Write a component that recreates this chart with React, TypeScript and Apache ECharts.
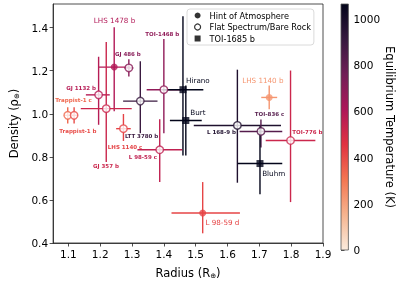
import React, { useEffect, useRef } from 'react';
import * as echarts from 'echarts';

// ---- data ----
const planets = [
  'LHS 1478 b', 'GJ 486 b', 'GJ 1132 b', 'GJ 357 b', 'Trappist-1 c', 'Trappist-1 b',
  'LHS 1140 c', 'LTT 3780 b', 'TOI-1468 b', 'TOI-1685 b (Hirano)', 'TOI-1685 b (Burt)',
  'L 168-9 b', 'TOI-836 c', 'TOI-1685 b (Bluhm)', 'TOI-776 b', 'LHS 1140 b', 'L 98-59 c', 'L 98-59 d',
];
const kind = ['hint', 'flat', 'flat', 'flat', 'flat', 'flat', 'flat', 'flat', 'flat', 'toi', 'toi',
  'flat', 'flat', 'toi', 'flat', 'hint', 'flat', 'hint'];
const radius = [1.244, 1.290, 1.195, 1.219, 1.098, 1.118, 1.273, 1.326, 1.400, 1.460, 1.469,
  1.631, 1.705, 1.702, 1.798, 1.731, 1.387, 1.522];
const radiusErrLo = [0.05, 0.014, 0.040, 0.08, 0.012, 0.012, 0.023, 0.054, 0.054, 0.064, 0.05,
  0.137, 0.067, 0.07, 0.078, 0.025, 0.07, 0.098];
const radiusErrHi = [0.05, 0.014, 0.035, 0.08, 0.012, 0.012, 0.023, 0.054, 0.054, 0.064, 0.05,
  0.137, 0.067, 0.07, 0.078, 0.025, 0.07, 0.117];
const density = [1.217, 1.213, 1.088, 1.024, 0.993, 0.993, 0.931, 1.059, 1.112, 1.112, 0.969,
  0.946, 0.918, 0.769, 0.876, 1.076, 0.833, 0.539];
const densityErrLo = [0.205, 0.04, 0.139, 0.248, 0.038, 0.038, 0.057, 0.149, 0.202, 0.306, 0.163,
  0.266, 0.074, 0.143, 0.286, 0.055, 0.150, 0.094];
const densityErrHi = [0.185, 0.04, 0.177, 0.309, 0.038, 0.038, 0.068, 0.185, 0.236, 0.341, 0.163,
  0.259, 0.055, 0.173, 0.325, 0.055, 0.142, 0.144];
const teq = [595, 700, 580, 525, 340, 400, 420, 900, 680, 1065, 1065, 980, 830, 1065, 520, 226, 553, 416];

// annotations (text, anchor in data coords, planet whose colour it takes)
const annText = ['LHS 1478 b', 'GJ 486 b', 'TOI-1468 b', 'GJ 1132 b', 'Trappist-1 c', 'Trappist-1 b',
  'GJ 357 b', 'LHS 1140 c', 'LTT 3780 b', 'L 98-59 c', 'Hirano', 'Burt', 'L 168-9 b', 'TOI-836 c',
  'TOI-776 b', 'LHS 1140 b', 'Bluhm', 'L 98-59 d'];
const annPlanet = [0, 1, 8, 2, 4, 5, 3, 6, 7, 16, 9, 10, 11, 12, 14, 15, 13, 17];
const annX = [1.245, 1.287, 1.395, 1.140, 1.116, 1.130, 1.218, 1.278, 1.330, 1.334, 1.507, 1.507,
  1.581, 1.732, 1.851, 1.711, 1.745, 1.584];
const annY = [1.434, 1.280, 1.371, 1.119, 1.062, 0.919, 0.758, 0.848, 0.897, 0.799, 1.157, 1.006,
  0.915, 0.999, 0.915, 1.153, 0.721, 0.493];

const xTicks = [1.1, 1.2, 1.3, 1.4, 1.5, 1.6, 1.7, 1.8, 1.9];
const yTicks = [0.4, 0.6, 0.8, 1.0, 1.2, 1.4];
const cbTicks = [0, 200, 400, 600, 800, 1000];
const TMAX = 1065;

const legendNames = ['Hint of Atmosphere', 'Flat Spectrum/Bare Rock', 'TOI-1685 b'];

// rocket colormap stops
const ROCKET: [number, string][] = [
  [0, '#03051a'], [1 / 7, '#35193e'], [2 / 7, '#701f57'], [3 / 7, '#ad1759'],
  [4 / 7, '#e13342'], [5 / 7, '#f37651'], [6 / 7, '#f6b48f'], [1, '#faebdd'],
];

function hex2rgb(h: string) {
  return [parseInt(h.slice(1, 3), 16), parseInt(h.slice(3, 5), 16), parseInt(h.slice(5, 7), 16)];
}
function colorFor(t: number) {
  // rocket_r
  let p = 1 - t / TMAX;
  p = Math.max(0, Math.min(1, p));
  for (let i = 0; i < ROCKET.length - 1; i++) {
    const [p0, c0] = ROCKET[i];
    const [p1, c1] = ROCKET[i + 1];
    if (p <= p1) {
      const f = (p - p0) / (p1 - p0);
      const a = hex2rgb(c0), b = hex2rgb(c1);
      const c = a.map((v, k) => Math.round(v + (b[k] - v) * f));
      return `rgb(${c[0]},${c[1]},${c[2]})`;
    }
  }
  return ROCKET[ROCKET.length - 1][1];
}

const FONT = 'DejaVu Sans';
const bigLabels = new Set(['LHS 1478 b', 'LHS 1140 b', 'L 98-59 d', 'Hirano', 'Burt', 'Bluhm']);

export default function App() {
  const ref = useRef<HTMLDivElement>(null);
  useEffect(() => {
    if (!ref.current) return;
    const chart = echarts.init(ref.current, null, { renderer: 'svg' });
    const colors = teq.map(colorFor);

    const pts = (k: string) =>
      planets.map((_, i) => i).filter((i) => kind[i] === k).map((i) => {
        const c = colors[i];
        const style = k === 'flat'
          ? { color: '#ffffff', borderColor: c, borderWidth: 1.4 }
          : { color: c, borderWidth: 0 };
        return { value: [radius[i], density[i]], itemStyle: style };
      });

    const axisLine = { show: true, lineStyle: { color: '#222', width: 0.8 } };
    const tick = { show: true, length: 3.5, lineStyle: { color: '#222', width: 0.8 } };
    const lbl = { color: '#000', fontSize: 10.5, fontFamily: FONT };

    chart.setOption({
      animation: false,
      grid: [
        { left: 39, top: 4, width: 284, height: 246, show: true, borderColor: '#222', borderWidth: 0.8 },
        { left: 341, top: 4, width: 12, height: 246 },
      ],
      xAxis: [
        {
          type: 'value', gridIndex: 0, min: 1.052, max: 1.9,
          axisLine, axisTick: { ...tick, customValues: xTicks },
          axisLabel: { ...lbl, margin: 5, customValues: xTicks, formatter: (v: number) => v.toFixed(1) },
          splitLine: { show: false },
          name: 'Radius (R{s|⊕})', nameLocation: 'middle', nameGap: 23,
          nameTextStyle: {
            fontSize: 11.5, fontFamily: FONT, color: '#000',
            rich: { s: { fontSize: 7, fontFamily: FONT, verticalAlign: 'bottom', padding: [6, 0, 0, 0] } },
          },
        },
        { type: 'value', gridIndex: 1, min: 0, max: 1, show: false },
      ],
      yAxis: [
        {
          type: 'value', gridIndex: 0, min: 0.4, max: 1.51,
          axisLine, axisTick: { ...tick, customValues: yTicks },
          axisLabel: { ...lbl, margin: 5, customValues: yTicks, formatter: (v: number) => v.toFixed(1) },
          splitLine: { show: false },
          name: 'Density (ρ{s|⊕})', nameLocation: 'middle', nameGap: 29, nameRotate: 90,
          nameTextStyle: {
            fontSize: 11.5, fontFamily: FONT, color: '#000',
            rich: { s: { fontSize: 7, fontFamily: FONT, verticalAlign: 'bottom', padding: [6, 0, 0, 0] } },
          },
        },
        {
          type: 'value', gridIndex: 1, min: 0, max: TMAX, position: 'right',
          axisLine: { show: false }, axisTick: { ...tick, customValues: cbTicks },
          axisLabel: { ...lbl, margin: 5, customValues: cbTicks, formatter: (v: number) => String(v) },
          splitLine: { show: false },
          name: 'Equilibrium Temperature (K)', nameLocation: 'middle', nameGap: 29, nameRotate: -90,
          nameTextStyle: { fontSize: 11.5, fontFamily: FONT, color: '#000' },
        },
      ],
      legend: {
        orient: 'vertical', left: 187, top: 9,
        padding: [1.5, 3, 1.5, 7], itemGap: 1.5, itemWidth: 14, itemHeight: 6,
        backgroundColor: '#fff', borderColor: '#d0d0d0', borderWidth: 0.8, borderRadius: 3,
        textStyle: { fontSize: 8.2, fontFamily: FONT, color: '#000', lineHeight: 10 },
        data: [
          { name: legendNames[0], icon: 'circle', itemStyle: { color: '#000', borderWidth: 0 } },
          { name: legendNames[1], icon: 'circle', itemStyle: { color: '#fff', borderColor: '#000', borderWidth: 1.2 } },
          { name: legendNames[2], icon: 'path://M0,0h10v10h-10z', itemStyle: { color: '#000', borderWidth: 0 } },
        ],
        selectedMode: false,
      },
      series: [
        {
          type: 'custom', name: 'colorbar', xAxisIndex: 1, yAxisIndex: 1, silent: true,
          data: [[0, 0]],
          renderItem: (_p: any, api: any) => {
            const tl = api.coord([0, TMAX]);
            const br = api.coord([1, 0]);
            return {
              type: 'rect',
              shape: { x: tl[0], y: tl[1], width: br[0] - tl[0], height: br[1] - tl[1] },
              style: {
                fill: new echarts.graphic.LinearGradient(0, 0, 0, 1,
                  ROCKET.map(([o, c]) => ({ offset: o, color: c }))),
                stroke: '#555', lineWidth: 0.8,
              },
            };
          },
        },
        {
          type: 'custom', name: 'errors', xAxisIndex: 0, yAxisIndex: 0, silent: true, z: 1,
          encode: { x: 0, y: 1 },
          data: planets.map((_, i) => [radius[i], density[i], i]),
          renderItem: (_p: any, api: any) => {
            const i = api.value(2);
            const x = api.value(0), y = api.value(1);
            const a = api.coord([x - radiusErrLo[i], y]);
            const b = api.coord([x + radiusErrHi[i], y]);
            const c = api.coord([x, y - densityErrLo[i]]);
            const d = api.coord([x, y + densityErrHi[i]]);
            const style = { stroke: colors[i], lineWidth: 1.4 };
            return {
              type: 'group',
              children: [
                { type: 'line', shape: { x1: a[0], y1: a[1], x2: b[0], y2: b[1] }, style },
                { type: 'line', shape: { x1: c[0], y1: c[1], x2: d[0], y2: d[1] }, style },
              ],
            };
          },
        },
        {
          type: 'scatter', name: legendNames[0], symbol: 'circle', symbolSize: 7, z: 3,
          itemStyle: { color: '#000' }, data: pts('hint'),
        },
        {
          type: 'scatter', name: legendNames[1], symbol: 'circle', symbolSize: 7.5, z: 3,
          itemStyle: { color: '#fff', borderColor: '#000', borderWidth: 1.4 }, data: pts('flat'),
        },
        {
          type: 'scatter', name: legendNames[2], symbol: 'rect', symbolSize: 7, z: 3,
          itemStyle: { color: '#000' }, data: pts('toi'),
        },
        {
          type: 'custom', name: 'labels', silent: true, z: 4,
          encode: { x: 0, y: 1 },
          data: annText.map((_, i) => [annX[i], annY[i], i]),
          renderItem: (_p: any, api: any) => {
            const i = api.value(2);
            const p = api.coord([api.value(0), api.value(1)]);
            const t = annText[i];
            const big = bigLabels.has(t);
            return {
              type: 'text', x: p[0], y: p[1],
              style: {
                text: t, fill: colors[annPlanet[i]],
                fontSize: big ? 7.2 : 5.5, fontWeight: big ? 'normal' : 'bold', fontFamily: FONT,
                align: 'center', verticalAlign: 'middle',
              },
            };
          },
        },
      ],
    });
    return () => chart.dispose();
  }, []);
  return <div ref={ref} style={{ position: 'fixed', left: 0, top: 0, width: 397, height: 284 }} />;
}
